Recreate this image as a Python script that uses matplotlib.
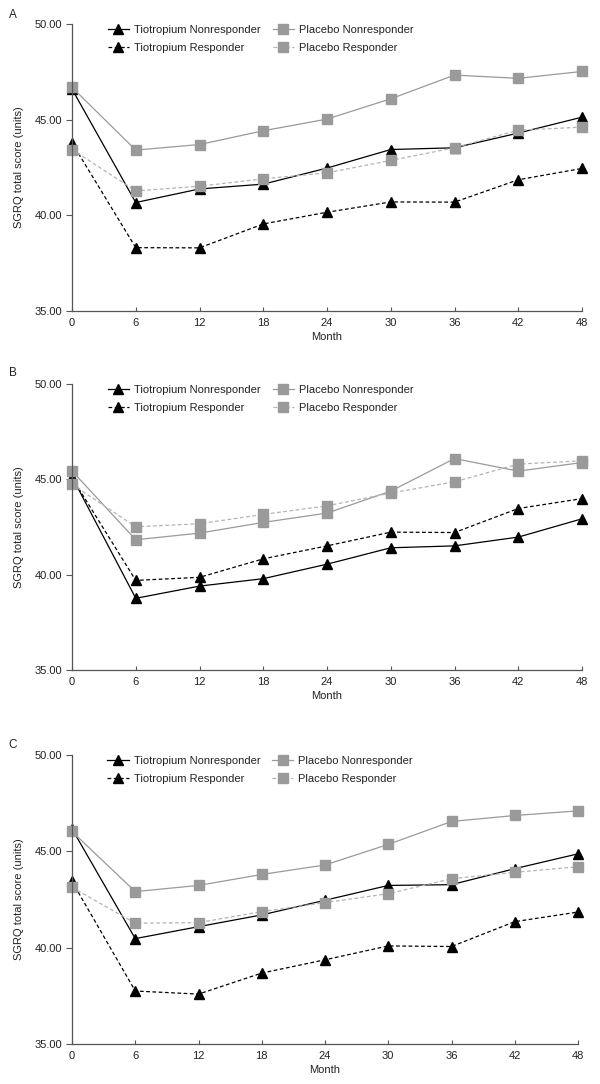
import matplotlib
matplotlib.use("Agg")
import matplotlib.pyplot as plt
from matplotlib.ticker import FormatStrFormatter

plt.rcParams['font.family'] = ['Liberation Sans', 'DejaVu Sans']

months = [0, 6, 12, 18, 24, 30, 36, 42, 48]
x_ticks = [0, 6, 12, 18, 24, 30, 36, 42, 48]
y_ticks = [35, 40, 45, 50]
panel_labels = ["A", "B", "C"]
series_names = ["Tiotropium Nonresponder", "Tiotropium Responder",
                "Placebo Nonresponder", "Placebo Responder"]

# Panel A
a_tio_nonresp = [46.60, 40.67, 41.38, 41.63, 42.47, 43.44, 43.53, 44.30, 45.13]
a_tio_resp    = [43.79, 38.31, 38.30, 39.55, 40.16, 40.70, 40.69, 41.86, 42.45]
a_pla_nonresp = [46.69, 43.41, 43.70, 44.42, 45.03, 46.09, 47.33, 47.16, 47.52]
a_pla_resp    = [43.44, 41.28, 41.52, 41.91, 42.22, 42.87, 43.53, 44.45, 44.61]

# Panel B
b_tio_nonresp = [45.13, 38.76, 39.40, 39.79, 40.55, 41.41, 41.51, 41.97, 42.93]
b_tio_resp    = [45.08, 39.70, 39.86, 40.83, 41.51, 42.23, 42.21, 43.47, 43.99]
b_pla_nonresp = [45.44, 41.83, 42.18, 42.74, 43.23, 44.38, 46.09, 45.43, 45.88]
b_pla_resp    = [44.74, 42.51, 42.67, 43.16, 43.61, 44.28, 44.87, 45.80, 45.97]

# Panel C
c_tio_nonresp = [46.17, 40.47, 41.09, 41.70, 42.46, 43.23, 43.27, 44.10, 44.87]
c_tio_resp    = [43.44, 37.75, 37.59, 38.68, 39.37, 40.09, 40.06, 41.35, 41.85]
c_pla_nonresp = [46.03, 42.91, 43.23, 43.80, 44.29, 45.36, 46.55, 46.86, 47.10]
c_pla_resp    = [43.13, 41.27, 41.30, 41.87, 42.34, 42.80, 43.58, 43.91, 44.20]

panels = [
    (a_tio_nonresp, a_tio_resp, a_pla_nonresp, a_pla_resp),
    (b_tio_nonresp, b_tio_resp, b_pla_nonresp, b_pla_resp),
    (c_tio_nonresp, c_tio_resp, c_pla_nonresp, c_pla_resp),
]

W, H = 600, 1084
fig = plt.figure(figsize=(W / 100, H / 100), dpi=100)

# axes boxes in pixels: (left, right, top, bottom)
boxes = [(72, 582, 24, 311), (72, 582, 384, 670), (72, 578, 755, 1044)]
label_y = [15, 373, 745]

grey = "#9a9a9a"
styles = [
    dict(color="black", linestyle="-", marker="^", markersize=6.5, lw=0.9, mfc="black", mec="black"),
    dict(color="black", linestyle=(0, (3, 2)), marker="^", markersize=6.5, lw=0.9, mfc="black", mec="black"),
    dict(color=grey, linestyle="-", marker="s", markersize=7, lw=0.9, mfc=grey, mec=grey),
    dict(color="#b4b4b4", linestyle=(0, (3, 2)), marker="s", markersize=7, lw=0.9, mfc=grey, mec=grey),
]

spine_col = "#555555"
fs = 8

for i, (data, box) in enumerate(zip(panels, boxes)):
    l, r, t, b = box
    ax = fig.add_axes([l / W, 1 - b / H, (r - l) / W, (b - t) / H])
    for vals, name, st in zip(data, series_names, styles):
        ax.plot(months, vals, label=name, clip_on=False, **st)
    ax.set_xlim(0, 48)
    ax.set_ylim(35, 50)
    ax.set_xticks(x_ticks)
    ax.set_yticks(y_ticks)
    ax.yaxis.set_major_formatter(FormatStrFormatter("%.2f"))
    for s in ["top", "right"]:
        ax.spines[s].set_visible(False)
    for s in ["left", "bottom"]:
        ax.spines[s].set_color(spine_col)
        ax.spines[s].set_linewidth(0.9)
    ax.tick_params(axis="x", direction="in", length=3, width=0.8, color=spine_col,
                   labelsize=fs, pad=5, colors="#222222")
    ax.tick_params(axis="y", direction="out", length=4, width=0.8, color=spine_col,
                   labelsize=fs, pad=3, colors="#222222")
    ax.set_xlabel("Month", fontsize=fs, labelpad=3, color="#222222")
    ax.set_ylabel("SGRQ total score (units)", fontsize=fs, labelpad=8, color="#222222")
    leg = ax.legend(ncol=2, loc="upper left", bbox_to_anchor=(0.07, 0.996),
                    frameon=False, fontsize=fs, handlelength=1.9, handletextpad=0.45,
                    columnspacing=1.1, labelspacing=0.73, borderpad=0, borderaxespad=0,
                    numpoints=1)
    for txt in leg.get_texts():
        txt.set_color("#222222")
    fig.text(13 / W, 1 - label_y[i] / H, panel_labels[i], fontsize=fs + 0.5,
             ha="center", va="center", color="#222222")

fig.savefig("out.png", dpi=100)
